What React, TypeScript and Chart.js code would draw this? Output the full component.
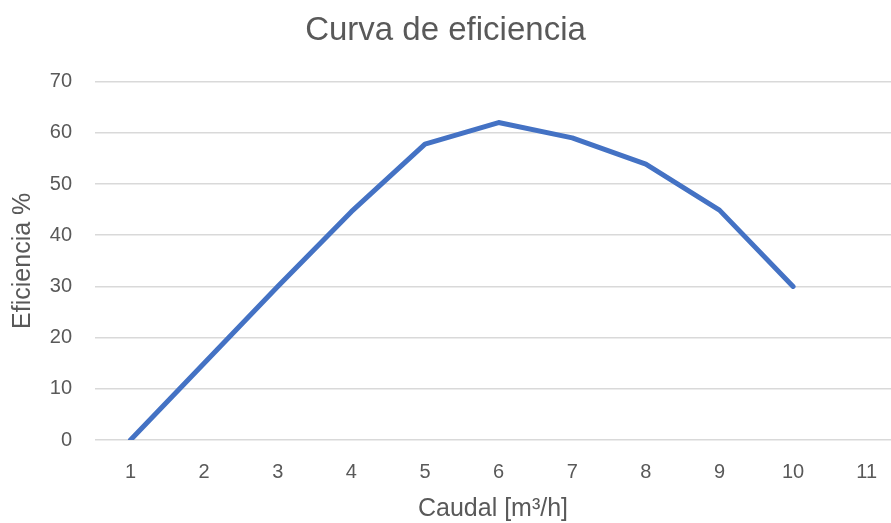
import React, { useEffect, useRef } from "react";
import { Chart, registerables } from "chart.js";

Chart.register(...registerables);

const caudal: number[] = [1, 2, 3, 4, 5, 6, 7, 8, 9, 10];
const eficiencia: number[] = [0, 15, 30, 44.6, 57.8, 62, 59, 53.9, 44.9, 30];
const xTicks: number[] = [1, 2, 3, 4, 5, 6, 7, 8, 9, 10, 11];
const yTicks: number[] = [0, 10, 20, 30, 40, 50, 60, 70];

const FONT = "'Liberation Sans', Arial, sans-serif";
const GRAY = "#595959";

export default function App() {
  const ref = useRef<HTMLCanvasElement | null>(null);
  useEffect(() => {
    if (!ref.current) return;
    const chart = new Chart(ref.current, {
      type: "line",
      data: {
        datasets: [
          {
            label: "Eficiencia",
            data: caudal.map((x, i) => ({ x, y: eficiencia[i] })),
            borderColor: "#4472C4",
            backgroundColor: "#4472C4",
            borderWidth: 5,
            pointRadius: 0,
            tension: 0,
            borderCapStyle: "round",
            borderJoinStyle: "round",
          },
        ],
      },
      options: {
        animation: false,
        responsive: false,
        maintainAspectRatio: false,
        layout: { padding: 0 },
        plugins: {
          legend: { display: false },
          tooltip: { enabled: false },
          title: {
            display: true,
            text: "Curva de eficiencia",
            color: GRAY,
            font: { family: FONT, size: 33, weight: "normal" },
            padding: { top: 11, bottom: 31 },
          },
        },
        scales: {
          x: {
            type: "linear",
            min: 0.518,
            max: 11.33,
            afterBuildTicks: (s: any) => {
              s.ticks = xTicks.map((v) => ({ value: v }));
            },
            afterFit: (s: any) => {
              s.height = 83;
              s.paddingLeft = 0;
              s.paddingRight = 0;
            },
            grid: { display: false, drawTicks: false },
            border: { display: false },
            ticks: {
              color: GRAY,
              font: { family: FONT, size: 20 },
              padding: 20,
              autoSkip: false,
              maxRotation: 0,
              callback: (v: any) => String(v),
            },
            title: {
              display: true,
              text: "Caudal [m³/h]",
              color: GRAY,
              font: { family: FONT, size: 25, lineHeight: 1.1 },
              padding: { top: 0, bottom: 0 },
            },
          },
          y: {
            type: "linear",
            min: 0,
            max: 70,
            afterBuildTicks: (s: any) => {
              s.ticks = yTicks.map((v) => ({ value: v }));
            },
            afterFit: (s: any) => {
              s.width = 95;
              s.paddingTop = 0;
              s.paddingBottom = 0;
            },
            grid: { color: "#D9D9D9", lineWidth: 1.5, drawTicks: false },
            border: { display: false },
            ticks: {
              color: GRAY,
              font: { family: FONT, size: 20 },
              padding: 23,
              callback: (v: any) => String(v),
            },
            title: {
              display: true,
              text: "Eficiencia %",
              color: GRAY,
              font: { family: FONT, size: 25 },
              padding: { top: 8, bottom: 0 },
            },
          },
        },
      },
    });
    return () => chart.destroy();
  }, []);
  return (
    <div style={{ position: "absolute", left: 0, top: 0, width: 891, height: 523, background: "#fff" }}>
      <canvas ref={ref} width={891} height={523} style={{ display: "block" }} />
    </div>
  );
}
